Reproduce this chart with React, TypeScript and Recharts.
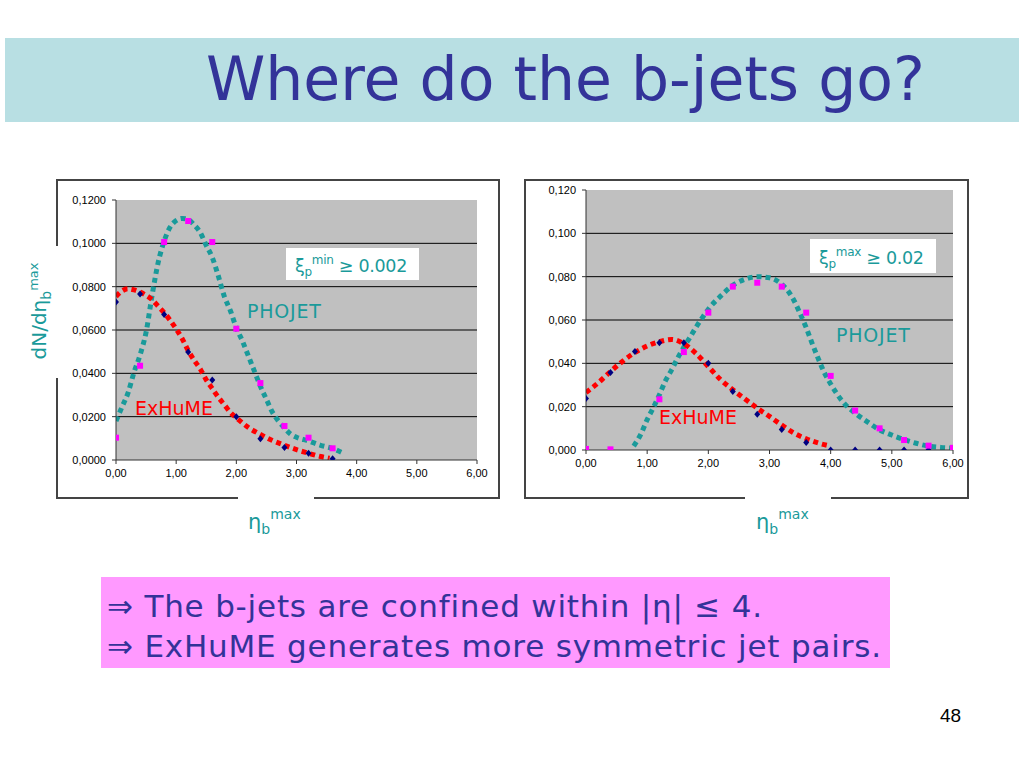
import React from "react";
import { ComposedChart, Line, Scatter, XAxis, YAxis, CartesianGrid } from "recharts";

// ---------- data ----------
const xTicks = [0, 1, 2, 3, 4, 5, 6];
const yTicks = [0, 0.02, 0.04, 0.06, 0.08, 0.1, 0.12];
const gridValues = [0.02, 0.04, 0.06, 0.08, 0.1];

// Left chart (xi_p min >= 0.002)
const exhumePointsL = [
  { x: 0, y: 0.0729 }, { x: 0.4, y: 0.0766 }, { x: 0.8, y: 0.0672 }, { x: 1.2, y: 0.0498 },
  { x: 1.6, y: 0.0369 }, { x: 2.0, y: 0.02 }, { x: 2.4, y: 0.0098 }, { x: 2.8, y: 0.0058 },
  { x: 3.2, y: 0.0031 }, { x: 3.6, y: 0.0006 },
];
const phojetPointsL = [
  { x: 0, y: 0.0103 }, { x: 0.4, y: 0.0435 }, { x: 0.8, y: 0.1006 }, { x: 1.2, y: 0.1103 },
  { x: 1.6, y: 0.1006 }, { x: 2.0, y: 0.0606 }, { x: 2.4, y: 0.0355 }, { x: 2.8, y: 0.0157 },
  { x: 3.2, y: 0.0103 }, { x: 3.6, y: 0.0054 },
];
const phojetFitL = [
  { x: 0, y: 0.018 }, { x: 0.1, y: 0.0245 }, { x: 0.2, y: 0.031 }, { x: 0.3, y: 0.0405 },
  { x: 0.4, y: 0.0485 }, { x: 0.5, y: 0.059 }, { x: 0.6, y: 0.076 }, { x: 0.7, y: 0.091 },
  { x: 0.8, y: 0.101 }, { x: 0.9, y: 0.1075 }, { x: 1.0, y: 0.1105 }, { x: 1.1, y: 0.1115 },
  { x: 1.2, y: 0.111 }, { x: 1.3, y: 0.1085 }, { x: 1.4, y: 0.105 }, { x: 1.5, y: 0.099 },
  { x: 1.6, y: 0.0935 }, { x: 1.7, y: 0.085 }, { x: 1.8, y: 0.0755 }, { x: 1.9, y: 0.069 },
  { x: 2.0, y: 0.061 }, { x: 2.1, y: 0.055 }, { x: 2.2, y: 0.048 }, { x: 2.3, y: 0.041 },
  { x: 2.4, y: 0.034 }, { x: 2.5, y: 0.028 }, { x: 2.6, y: 0.022 }, { x: 2.7, y: 0.018 },
  { x: 2.8, y: 0.0148 }, { x: 2.9, y: 0.012 }, { x: 3.0, y: 0.0105 }, { x: 3.2, y: 0.0088 },
  { x: 3.4, y: 0.0068 }, { x: 3.6, y: 0.0053 }, { x: 3.75, y: 0.0035 },
];
const exhumeFitL = [
  { x: 0, y: 0.0755 }, { x: 0.1, y: 0.078 }, { x: 0.2, y: 0.079 }, { x: 0.3, y: 0.0785 },
  { x: 0.4, y: 0.0775 }, { x: 0.5, y: 0.076 }, { x: 0.6, y: 0.074 }, { x: 0.7, y: 0.071 },
  { x: 0.8, y: 0.068 }, { x: 0.9, y: 0.0645 }, { x: 1.0, y: 0.0605 }, { x: 1.1, y: 0.056 },
  { x: 1.2, y: 0.0505 }, { x: 1.3, y: 0.046 }, { x: 1.4, y: 0.042 }, { x: 1.5, y: 0.037 },
  { x: 1.6, y: 0.033 }, { x: 1.7, y: 0.029 }, { x: 1.8, y: 0.0255 }, { x: 1.9, y: 0.022 },
  { x: 2.0, y: 0.0195 }, { x: 2.2, y: 0.015 }, { x: 2.4, y: 0.0118 }, { x: 2.6, y: 0.009 },
  { x: 2.8, y: 0.0068 }, { x: 3.0, y: 0.0048 }, { x: 3.2, y: 0.0031 }, { x: 3.4, y: 0.0016 },
  { x: 3.55, y: 0.0008 },
];

// Right chart (xi_p max >= 0.02)
const exhumePointsR = [
  { x: 0, y: 0.0238 }, { x: 0.4, y: 0.0358 }, { x: 0.8, y: 0.0455 }, { x: 1.2, y: 0.0495 },
  { x: 1.6, y: 0.0495 }, { x: 2.0, y: 0.04 }, { x: 2.4, y: 0.027 }, { x: 2.8, y: 0.0165 },
  { x: 3.2, y: 0.0095 }, { x: 3.6, y: 0.0035 }, { x: 4.0, y: 0 }, { x: 4.4, y: 0 },
  { x: 4.8, y: 0 }, { x: 5.2, y: 0 }, { x: 5.6, y: 0 }, { x: 6.0, y: 0 },
];
const phojetPointsR = [
  { x: 0, y: 0.0005 }, { x: 0.4, y: 0.0003 }, { x: 1.2, y: 0.0234 }, { x: 1.6, y: 0.0452 },
  { x: 2.0, y: 0.0634 }, { x: 2.4, y: 0.0754 }, { x: 2.8, y: 0.0772 }, { x: 3.2, y: 0.0754 },
  { x: 3.6, y: 0.0634 }, { x: 4.0, y: 0.0342 }, { x: 4.4, y: 0.0182 }, { x: 4.8, y: 0.01 },
  { x: 5.2, y: 0.0046 }, { x: 5.6, y: 0.002 }, { x: 6.0, y: 0.001 },
];
const phojetFitR = [
  { x: 0.78, y: 0.0018 }, { x: 0.9, y: 0.0075 }, { x: 1.0, y: 0.014 }, { x: 1.1, y: 0.0195 },
  { x: 1.2, y: 0.0255 }, { x: 1.3, y: 0.032 }, { x: 1.4, y: 0.037 }, { x: 1.5, y: 0.0425 },
  { x: 1.6, y: 0.0475 }, { x: 1.7, y: 0.052 }, { x: 1.8, y: 0.0567 }, { x: 1.9, y: 0.061 },
  { x: 2.0, y: 0.065 }, { x: 2.2, y: 0.071 }, { x: 2.4, y: 0.076 }, { x: 2.6, y: 0.0788 },
  { x: 2.8, y: 0.08 }, { x: 3.0, y: 0.0795 }, { x: 3.2, y: 0.0765 }, { x: 3.3, y: 0.0735 },
  { x: 3.4, y: 0.069 }, { x: 3.5, y: 0.063 }, { x: 3.6, y: 0.0565 }, { x: 3.7, y: 0.049 },
  { x: 3.8, y: 0.042 }, { x: 3.9, y: 0.0355 }, { x: 4.0, y: 0.0305 }, { x: 4.1, y: 0.026 },
  { x: 4.2, y: 0.0222 }, { x: 4.4, y: 0.017 }, { x: 4.6, y: 0.013 }, { x: 4.8, y: 0.0093 },
  { x: 5.0, y: 0.0069 }, { x: 5.2, y: 0.0048 }, { x: 5.4, y: 0.0031 }, { x: 5.6, y: 0.0018 },
  { x: 5.8, y: 0.0012 }, { x: 6.0, y: 0.0009 },
];
const exhumeFitR = [
  { x: 0, y: 0.0265 }, { x: 0.2, y: 0.031 }, { x: 0.4, y: 0.0362 }, { x: 0.6, y: 0.041 },
  { x: 0.8, y: 0.045 }, { x: 1.0, y: 0.048 }, { x: 1.2, y: 0.05 }, { x: 1.4, y: 0.051 },
  { x: 1.6, y: 0.049 }, { x: 1.8, y: 0.0445 }, { x: 2.0, y: 0.0385 }, { x: 2.2, y: 0.0325 },
  { x: 2.4, y: 0.0278 }, { x: 2.6, y: 0.0235 }, { x: 2.8, y: 0.0193 }, { x: 3.0, y: 0.0155 },
  { x: 3.2, y: 0.0115 }, { x: 3.4, y: 0.0078 }, { x: 3.6, y: 0.0052 }, { x: 3.8, y: 0.0032 },
  { x: 4.0, y: 0.0018 },
];

// ---------- styles ----------
const TEAL = "#1a9a9a";
const RED = "#ff0000";
const NAVY = "#000080";
const MAGENTA = "#ff00ff";
const TITLE = "#333399";
const tickFont = { fontFamily: "'Liberation Sans', Arial, sans-serif", fontSize: 11, fill: "#000" };

const Diamond = (p: any) => {
  const { cx, cy } = p;
  if (cx == null || cy == null) return null;
  return <path d={`M${cx},${cy - 3.5}L${cx + 3},${cy}L${cx},${cy + 3.5}L${cx - 3},${cy}Z`} fill={NAVY} />;
};
const Square = (p: any) => {
  const { cx, cy } = p;
  if (cx == null || cy == null) return null;
  return <rect x={cx - 3} y={cy - 3} width={6} height={6} fill={MAGENTA} />;
};

type PanelProps = {
  width: number;
  height: number;
  margin: { top: number; right: number; bottom: number; left: number };
  yWidth: number;
  decimals: number;
  exPts: { x: number; y: number }[];
  phPts: { x: number; y: number }[];
  phFit: { x: number; y: number }[];
  exFit: { x: number; y: number }[];
};

const Panel = (props: PanelProps) => (
  <ComposedChart width={props.width} height={props.height} margin={props.margin}>
    <CartesianGrid
      vertical={false}
      horizontalValues={gridValues}
      stroke="#000"
      strokeWidth={1}
      fill="#c0c0c0"
      fillOpacity={1}
    />
    <XAxis
      type="number"
      dataKey="x"
      domain={[0, 6]}
      ticks={xTicks}
      interval={0}
      tickFormatter={(v: number) => v.toFixed(2).replace(".", ",")}
      tick={tickFont}
      stroke="#333"
      tickSize={4}
      tickMargin={5}
      height={30}
      allowDataOverflow
    />
    <YAxis
      type="number"
      dataKey="y"
      domain={[0, 0.12]}
      ticks={yTicks}
      interval={0}
      tickFormatter={(v: number) => v.toFixed(props.decimals).replace(".", ",")}
      tick={tickFont}
      stroke="#333"
      tickSize={4}
      tickMargin={6}
      width={props.yWidth}
      allowDataOverflow
    />
    <Line
      data={props.phFit}
      dataKey="y"
      type="monotone"
      stroke={TEAL}
      strokeWidth={5}
      strokeDasharray="5 4"
      dot={false}
      activeDot={false}
      isAnimationActive={false}
    />
    <Line
      data={props.exFit}
      dataKey="y"
      type="monotone"
      stroke={RED}
      strokeWidth={5}
      strokeDasharray="5 4"
      dot={false}
      activeDot={false}
      isAnimationActive={false}
    />
    <Scatter data={props.exPts} dataKey="y" shape={Diamond} isAnimationActive={false} />
    <Scatter data={props.phPts} dataKey="y" shape={Square} isAnimationActive={false} />
  </ComposedChart>
);

const slideFont = "'DejaVu Sans', 'Liberation Sans', sans-serif";

const Label = ({ x, y, color, size, children, spacing }: any) => (
  <div style={{ position: "absolute", left: x, top: y, color, fontSize: size, fontFamily: slideFont, whiteSpace: "nowrap", lineHeight: 1, letterSpacing: spacing || 0 }}>
    {children}
  </div>
);

export default function App() {
  return (
    <div style={{ position: "absolute", left: 0, top: 0, width: 1024, height: 768, background: "#fff", overflow: "hidden" }}>
      {/* Title banner */}
      <div style={{ position: "absolute", left: 5, top: 38, width: 1014, height: 84, background: "#b8dfe3" }} />
      <div style={{ position: "absolute", left: 206, top: 44, color: TITLE, fontFamily: slideFont, fontSize: 60, lineHeight: "70px", whiteSpace: "nowrap" }}>
        Where do the b-jets go?
      </div>

      {/* Left chart frame */}
      <div style={{ position: "absolute", left: 56, top: 179, width: 440, height: 316, border: "2px solid #444" }} />
      <div style={{ position: "absolute", left: 57, top: 180 }}>
        <Panel
          width={441}
          height={317}
          margin={{ top: 20, right: 21, bottom: 7, left: 0 }}
          yWidth={59}
          decimals={4}
          exPts={exhumePointsL}
          phPts={phojetPointsL}
          phFit={phojetFitL}
          exFit={exhumeFitL}
        />
      </div>

      {/* Right chart frame */}
      <div style={{ position: "absolute", left: 524, top: 179, width: 441, height: 316, border: "2px solid #444" }} />
      <div style={{ position: "absolute", left: 525, top: 180 }}>
        <Panel
          width={443}
          height={317}
          margin={{ top: 10, right: 15, bottom: 17, left: 0 }}
          yWidth={61}
          decimals={3}
          exPts={exhumePointsR}
          phPts={phojetPointsR}
          phFit={phojetFitR}
          exFit={exhumeFitR}
        />
      </div>

      {/* Annotation boxes */}
      <div style={{ position: "absolute", left: 286, top: 248, width: 133, height: 32, background: "#fff" }} />
      <Label x={295} y={255} color={TEAL} size={17.5} spacing={-0.3}>
        ξ<sub style={{ fontSize: 12 }}>p</sub>
        <sup style={{ fontSize: 12, position: "relative", top: -1 }}>min</sup> ≥ 0.002
      </Label>
      <div style={{ position: "absolute", left: 810, top: 239, width: 126, height: 34, background: "#fff" }} />
      <Label x={819} y={247} color={TEAL} size={17.5} spacing={-0.3}>
        ξ<sub style={{ fontSize: 12 }}>p</sub>
        <sup style={{ fontSize: 12, position: "relative", top: -1 }}>max</sup> ≥ 0.02
      </Label>

      <Label x={247} y={302} color={TEAL} size={19} spacing={0.8}>PHOJET</Label>
      <Label x={836} y={326} color={TEAL} size={19} spacing={0.8}>PHOJET</Label>
      <Label x={135} y={399} color={RED} size={19}>ExHuME</Label>
      <Label x={659} y={408} color={RED} size={19}>ExHuME</Label>

      {/* Y axis label */}
      <div style={{ position: "absolute", left: 18, top: 246, width: 40, height: 132, background: "#fff" }} />
      <div
        style={{
          position: "absolute",
          left: 40,
          top: 311,
          transform: "translate(-50%, -50%) rotate(-90deg)",
          color: TEAL,
          fontFamily: slideFont,
          fontSize: 20,
          whiteSpace: "nowrap",
          lineHeight: 1,
        }}
      >
        dN/dη<sub style={{ fontSize: 14 }}>b</sub>
        <sup style={{ fontSize: 13 }}>max</sup>
      </div>

      {/* X axis labels */}
      <div style={{ position: "absolute", left: 238, top: 494, width: 76, height: 6, background: "#fff" }} />
      <Label x={248} y={509} color={TEAL} size={21}>
        η<sub style={{ fontSize: 14 }}>b</sub>
        <sup style={{ fontSize: 14, position: "relative", top: -2 }}>max</sup>
      </Label>
      <div style={{ position: "absolute", left: 745, top: 494, width: 86, height: 6, background: "#fff" }} />
      <Label x={756} y={509} color={TEAL} size={21}>
        η<sub style={{ fontSize: 14 }}>b</sub>
        <sup style={{ fontSize: 14, position: "relative", top: -2 }}>max</sup>
      </Label>

      {/* Conclusion box */}
      <div style={{ position: "absolute", left: 101, top: 577, width: 789, height: 91, background: "#ff99ff" }} />
      <div style={{ position: "absolute", left: 107, top: 586, color: TITLE, fontFamily: slideFont, fontSize: 31, lineHeight: "40px", whiteSpace: "nowrap", letterSpacing: 0.8 }}>
        <div>⇒ The b-jets are confined within |η| ≤ 4.</div>
        <div>⇒ ExHuME generates more symmetric jet pairs.</div>
      </div>

      {/* Page number */}
      <div style={{ position: "absolute", left: 940, top: 705, fontFamily: "'Liberation Sans', Arial, sans-serif", fontSize: 19, color: "#000" }}>48</div>
    </div>
  );
}
